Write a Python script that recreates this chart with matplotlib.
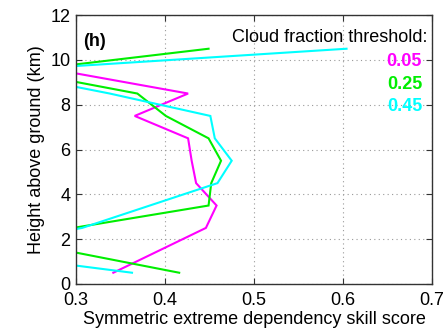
import matplotlib
matplotlib.use("Agg")
import matplotlib.pyplot as plt

plt.rcParams['font.family'] = ['Liberation Sans', 'DejaVu Sans']

# Layer mid-heights (km) and SEDS values per cloud-fraction threshold
heights = [0.5, 1.5, 2.5, 3.5, 4.5, 5.5, 6.5, 7.5, 8.5, 9.5, 10.5]
seds_005 = [0.342, 0.394, 0.446, 0.458, 0.435, 0.430, 0.426, 0.366, 0.426, 0.286, 0.270]
seds_025 = [0.416, 0.287, 0.297, 0.449, 0.452, 0.463, 0.449, 0.401, 0.369, 0.236, 0.449]
seds_045 = [0.363, 0.166, 0.307, 0.383, 0.459, 0.475, 0.456, 0.451, 0.338, 0.210, 0.604]

thresholds = ["0.05", "0.25", "0.45"]
colors = ["#ff00ff", "#00ee00", "#00ffff"]
series = [seds_005, seds_025, seds_045]

x_ticks = [0.3, 0.4, 0.5, 0.6, 0.7]
y_ticks = [0, 2, 4, 6, 8, 10, 12]

fig = plt.figure(figsize=(4.44, 3.29), dpi=100)
ax = fig.add_axes([0.171, 0.137, 0.802, 0.817])

for vals, c in zip(series, colors):
    ax.plot(vals, heights, color=c, lw=1.5, solid_joinstyle='miter')

ax.set_xlim(0.3, 0.7)
ax.set_ylim(0, 12)
ax.set_xticks(x_ticks)
ax.set_xticklabels([f"{t:.1f}" for t in x_ticks])
ax.set_yticks(y_ticks)
ax.grid(True, linestyle=(0, (1, 3)), color='#999999', lw=0.8)
ax.tick_params(direction='in', top=True, right=True, labelsize=13, length=4,
               color='#333333')
ax.tick_params(axis='x', pad=6)
ax.tick_params(axis='y', pad=4)
for s in ax.spines.values():
    s.set_color('#333333')
    s.set_linewidth(1.0)

ax.set_xlabel("Symmetric extreme dependency skill score", fontsize=13, labelpad=1)
ax.set_ylabel("Height above ground (km)", fontsize=13, labelpad=4)

ax.text(0.02, 0.903, "(h)", transform=ax.transAxes, fontsize=13,
        fontweight='bold', ha='left', va='center')
ax.text(0.988, 0.918, "Cloud fraction threshold:", transform=ax.transAxes,
        fontsize=13, ha='right', va='center')
for i, (lab, c) in enumerate(zip(thresholds, colors)):
    ax.text(0.972, 0.826 - i * 0.0835, lab, transform=ax.transAxes, fontsize=13,
            fontweight='bold', color=c, ha='right', va='center')

fig.savefig("out.png", dpi=100)
